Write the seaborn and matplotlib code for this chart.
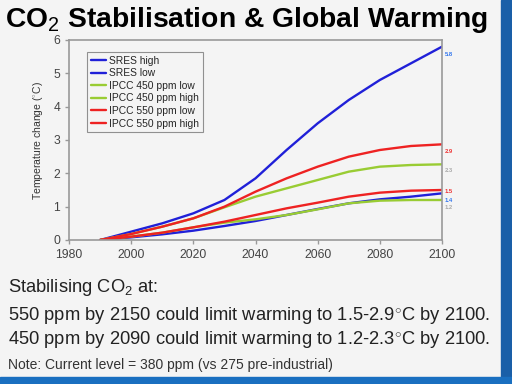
import matplotlib
matplotlib.use("Agg")
import matplotlib.pyplot as plt
import matplotlib.patches as mpatches
import seaborn as sns
import pandas as pd

# Data (temperature change, deg C)
years = [1990, 2000, 2010, 2020, 2030, 2040, 2050, 2060, 2070, 2080, 2090, 2100]
sres_high = [0, 0.25, 0.5, 0.8, 1.2, 1.85, 2.7, 3.5, 4.2, 4.8, 5.3, 5.8]
sres_low = [0, 0.08, 0.17, 0.28, 0.42, 0.57, 0.75, 0.93, 1.1, 1.22, 1.3, 1.4]
ipcc450_low = [0, 0.1, 0.22, 0.38, 0.52, 0.62, 0.75, 0.92, 1.1, 1.18, 1.2, 1.2]
ipcc450_high = [0, 0.18, 0.4, 0.65, 0.98, 1.3, 1.55, 1.8, 2.05, 2.2, 2.25, 2.27]
ipcc550_low = [0, 0.1, 0.22, 0.38, 0.55, 0.75, 0.95, 1.12, 1.3, 1.42, 1.48, 1.5]
ipcc550_high = [0, 0.18, 0.4, 0.65, 1.0, 1.45, 1.85, 2.2, 2.5, 2.7, 2.82, 2.87]

series_names = ["SRES high", "SRES low", "IPCC 450 ppm low", "IPCC 450 ppm high",
                "IPCC 550 ppm low", "IPCC 550 ppm high"]
series_values = [sres_high, sres_low, ipcc450_low, ipcc450_high, ipcc550_low, ipcc550_high]
series_colors = ["#2020d8", "#2020d8", "#99cc33", "#99cc33", "#ee2222", "#ee2222"]

end_labels = ["5.8", "2.9", "2.3", "1.5", "1.4", "1.2"]
end_values = [5.8, 2.9, 2.3, 1.5, 1.4, 1.2]
end_colors = ["#3377ee", "#ee3333", "#aaaaaa", "#ee3333", "#3377ee", "#aaaaaa"]
end_shift = [-5.3, -6.0, -5.5, -1.2, -4.8, -5.5]  # vertical nudges in points

rows = []
for name, vals in zip(series_names, series_values):
    for y, v in zip(years, vals):
        rows.append({"Year": y, "Temp": v, "Scenario": name})
df = pd.DataFrame(rows)

sns.set_style("white")
plt.rcParams["font.family"] = ["Liberation Sans", "DejaVu Sans"]
plt.rcParams["mathtext.fontset"] = "custom"
plt.rcParams["mathtext.rm"] = "Liberation Sans"

bg = "#f4f4f4"
fig = plt.figure(figsize=(5.12, 3.84), dpi=100, facecolor=bg)
ax = fig.add_axes([69 / 512, 1 - 240 / 384, 373 / 512, 200 / 384])
ax.set_facecolor(bg)

sns.lineplot(data=df, x="Year", y="Temp", hue="Scenario", hue_order=series_names,
             palette=series_colors, linewidth=1.7, ax=ax)

ax.set_xlim(1980, 2100)
ax.set_ylim(0, 6)
ax.set_xticks(range(1980, 2101, 20))
ax.set_yticks(range(0, 7))
ax.set_xlabel("")
ax.set_ylabel("Temperature change ($^{\\circ}$C)", fontsize=7.5, color="#333333", labelpad=6)
ax.tick_params(axis="both", labelsize=8.7, labelcolor="#444444", length=3, width=1,
               direction="out", bottom=True, left=True, color="#999999")
for s in ax.spines.values():
    s.set_color("#999999")
    s.set_linewidth(1.2)

leg = ax.legend(loc="upper left", bbox_to_anchor=(0.035, 0.965), fontsize=7.4,
                frameon=True, fancybox=False, handlelength=1.5, handletextpad=0.3,
                borderpad=0.35, labelspacing=0.25)
leg.get_frame().set_edgecolor("#777777")
leg.get_frame().set_facecolor(bg)
leg.get_frame().set_linewidth(0.8)

for lab, v, c, dy in zip(end_labels, end_values, end_colors, end_shift):
    ax.annotate(lab, xy=(2100, v), xytext=(2, dy), textcoords="offset points",
                fontsize=4.2, color=c, fontweight="bold", va="center", annotation_clip=False)

# slide title and text
fig.text(0.01, 0.947, "CO$_2$ Stabilisation & Global Warming", fontsize=20.3,
         fontweight="bold", va="center", ha="left", color="black")
fig.text(0.016, 0.252, "Stabilising CO$_2$ at:", fontsize=13.2, va="center", color="#222222")
fig.text(0.016, 0.178, "550 ppm by 2150 could limit warming to 1.5-2.9$^{\\circ}$C by 2100.",
         fontsize=13.2, va="center", color="#222222")
fig.text(0.016, 0.115, "450 ppm by 2090 could limit warming to 1.2-2.3$^{\\circ}$C by 2100.",
         fontsize=13.2, va="center", color="#222222")
fig.text(0.016, 0.05, "Note: Current level = 380 ppm (vs 275 pre-industrial)",
         fontsize=10, va="center", color="#333333")

# blue slide border bars
fig.patches.append(mpatches.Rectangle((501 / 512, 0), 11 / 512, 1, transform=fig.transFigure,
                                      color="#1a5fa8", zorder=0))
fig.patches.append(mpatches.Rectangle((0, 0), 1, 7 / 384, transform=fig.transFigure,
                                      color="#1a6fc0", zorder=0))

fig.savefig("out.png", dpi=100, facecolor=bg)
